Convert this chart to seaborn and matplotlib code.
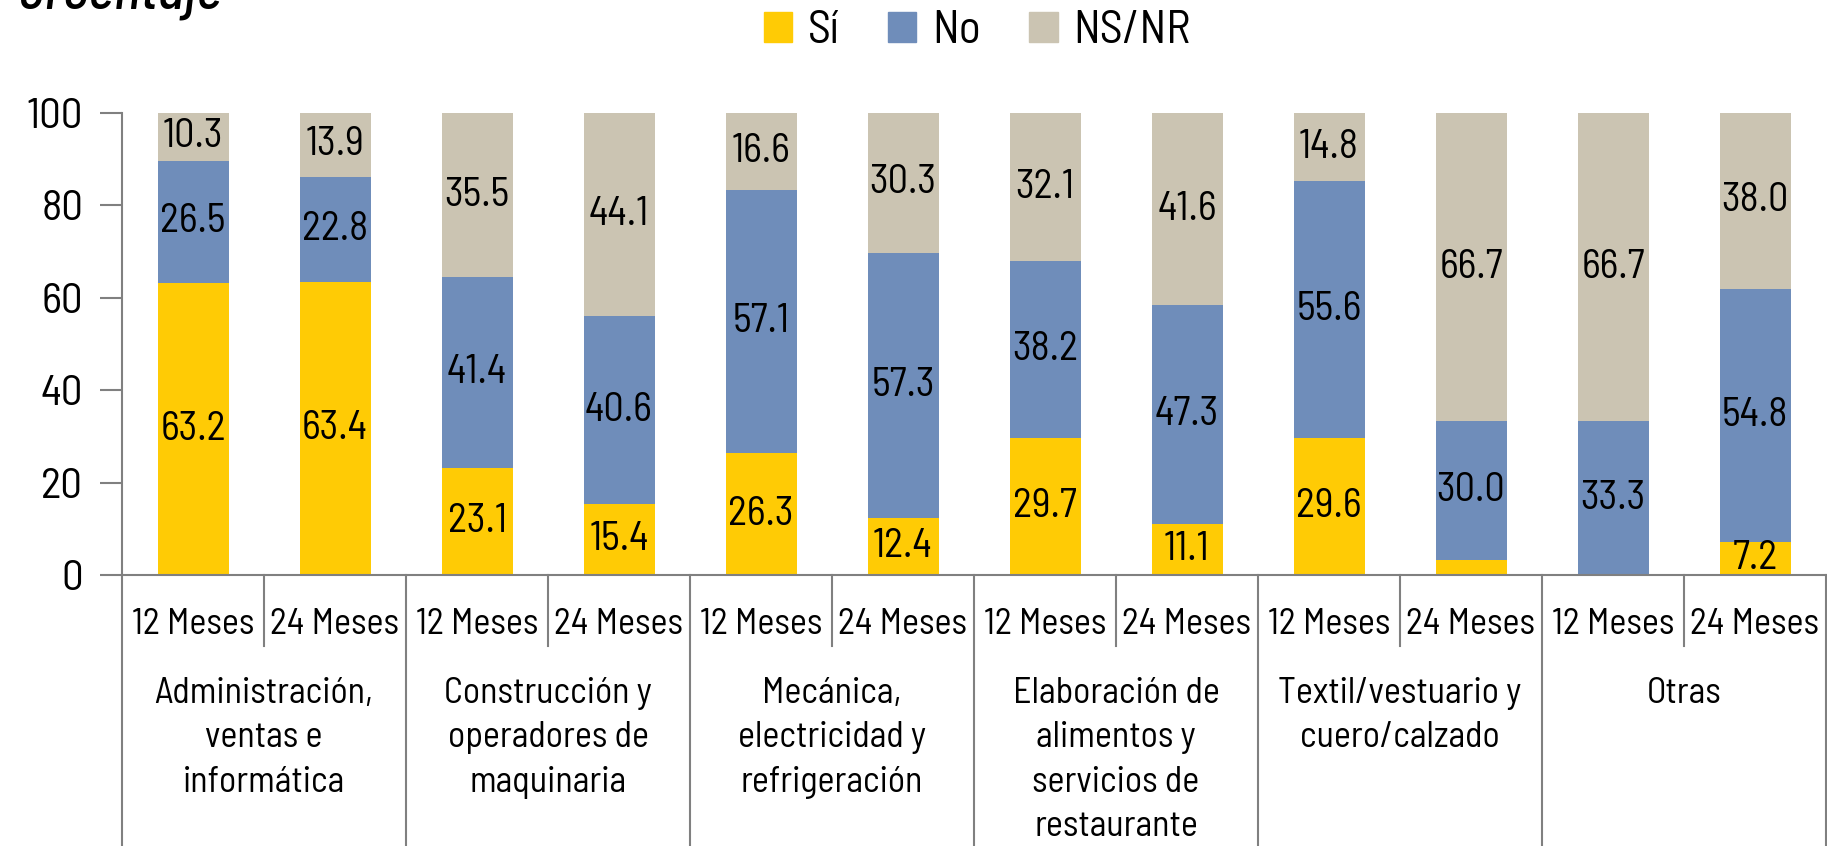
import pandas as pd
import matplotlib
matplotlib.use('Agg')
import matplotlib.pyplot as plt
import matplotlib.transforms as mtransforms
from matplotlib.patches import Patch
import seaborn as sns

# Datos
grupos = ['Administración,\nventas e\ninformática',
          'Construcción y\noperadores de\nmaquinaria',
          'Mecánica,\nelectricidad y\nrefrigeración',
          'Elaboración de\nalimentos y\nservicios de\nrestaurante',
          'Textil/vestuario y\ncuero/calzado',
          'Otras']
periodos = ['12 Meses', '24 Meses']
si = [63.2, 63.4, 23.1, 15.4, 26.3, 12.4, 29.7, 11.1, 29.6, 3.3, 0.0, 7.2]
no = [26.5, 22.8, 41.4, 40.6, 57.1, 57.3, 38.2, 47.3, 55.6, 30.0, 33.3, 54.8]
nsnr = [10.3, 13.9, 35.5, 44.1, 16.6, 30.3, 32.1, 41.6, 14.8, 66.7, 66.7, 38.0]
# valores sin etiqueta en el original
sin_etiqueta_si = [9, 10]

colores = {'Sí': '#FFCB05', 'No': '#6F8DBA', 'NS/NR': '#CBC4B2'}

fuentes = ['Barlow Semi Condensed', 'Sofia Sans Semi Condensed', 'Roboto', 'DejaVu Sans']
plt.rcParams['font.family'] = fuentes

n = len(si)
slots = [str(i) for i in range(n)]
df = pd.DataFrame({'slot': slots, 'si': si, 'no': no, 'nsnr': nsnr})
df['tope_no'] = df['si'] + df['no']
df['tope_ns'] = df['tope_no'] + df['nsnr']

fig = plt.figure(figsize=(18.27, 8.46), dpi=100)
ax = fig.add_axes([122 / 1827, 271 / 846, 1704 / 1827, 462 / 846])

# Barras apiladas (de arriba hacia abajo)
sns.barplot(data=df, x='slot', y='tope_ns', order=slots, color=colores['NS/NR'],
            width=0.5, saturation=1, ax=ax)
sns.barplot(data=df, x='slot', y='tope_no', order=slots, color=colores['No'],
            width=0.5, saturation=1, ax=ax)
sns.barplot(data=df, x='slot', y='si', order=slots, color=colores['Sí'],
            width=0.5, saturation=1, ax=ax)

# Etiquetas de valores
for i in range(n):
    if si[i] > 0 and i not in sin_etiqueta_si:
        ax.text(i, si[i] / 2, f'{si[i]:.1f}', ha='center', va='center', fontsize=29)
    ax.text(i, si[i] + no[i] / 2, f'{no[i]:.1f}', ha='center', va='center', fontsize=29)
    ax.text(i, si[i] + no[i] + nsnr[i] / 2, f'{nsnr[i]:.1f}', ha='center', va='center', fontsize=29)

ax.set_xlim(-0.5, n - 0.5)
ax.set_ylim(0, 100)
ax.set_yticks(range(0, 101, 20))
ax.tick_params(axis='y', labelsize=31, length=16, width=1.5, color='#808080', pad=12)
ax.set_xticks([])
ax.set_xlabel('')
ax.set_ylabel('')
for s in ['top', 'right']:
    ax.spines[s].set_visible(False)
for s in ['left', 'bottom']:
    ax.spines[s].set_color('#808080')
    ax.spines[s].set_linewidth(1.5)

# Ejes categóricos de dos niveles
def ay(px):
    return (575 - px) / 462

trans = mtransforms.blended_transform_factory(ax.transData, ax.transAxes)
for i in range(n):
    ax.text(i, ay(624), periodos[i % 2], transform=trans, ha='center', va='center',
            fontsize=26, clip_on=False)
for g in range(len(grupos)):
    ax.text(2 * g + 0.5, ay(677), grupos[g], transform=trans, ha='center', va='top',
            fontsize=26, linespacing=1.44, clip_on=False)
    ax.plot([2 * g + 0.5, 2 * g + 0.5], [0, ay(646)], transform=trans, color='#808080',
            lw=1.5, clip_on=False)
for b in range(len(grupos) + 1):
    ax.plot([2 * b - 0.5, 2 * b - 0.5], [0, ay(846)], transform=trans, color='#808080',
            lw=1.5, clip_on=False)

# Leyenda
handles = [Patch(color=colores[k], label=k) for k in ['Sí', 'No', 'NS/NR']]
fig.legend(handles=handles, loc='center', bbox_to_anchor=(0.535, 0.963), ncol=3,
           frameon=False, fontsize=33, handlelength=0.62, handleheight=0.62,
           handletextpad=0.35, columnspacing=1.05)

# Título recortado
fig.text(223 / 1827, 1 - 8 / 846, 'Porcentaje', ha='right', va='baseline',
         fontsize=40, style='italic', fontweight='medium')

fig.savefig('out.png', dpi=100)
